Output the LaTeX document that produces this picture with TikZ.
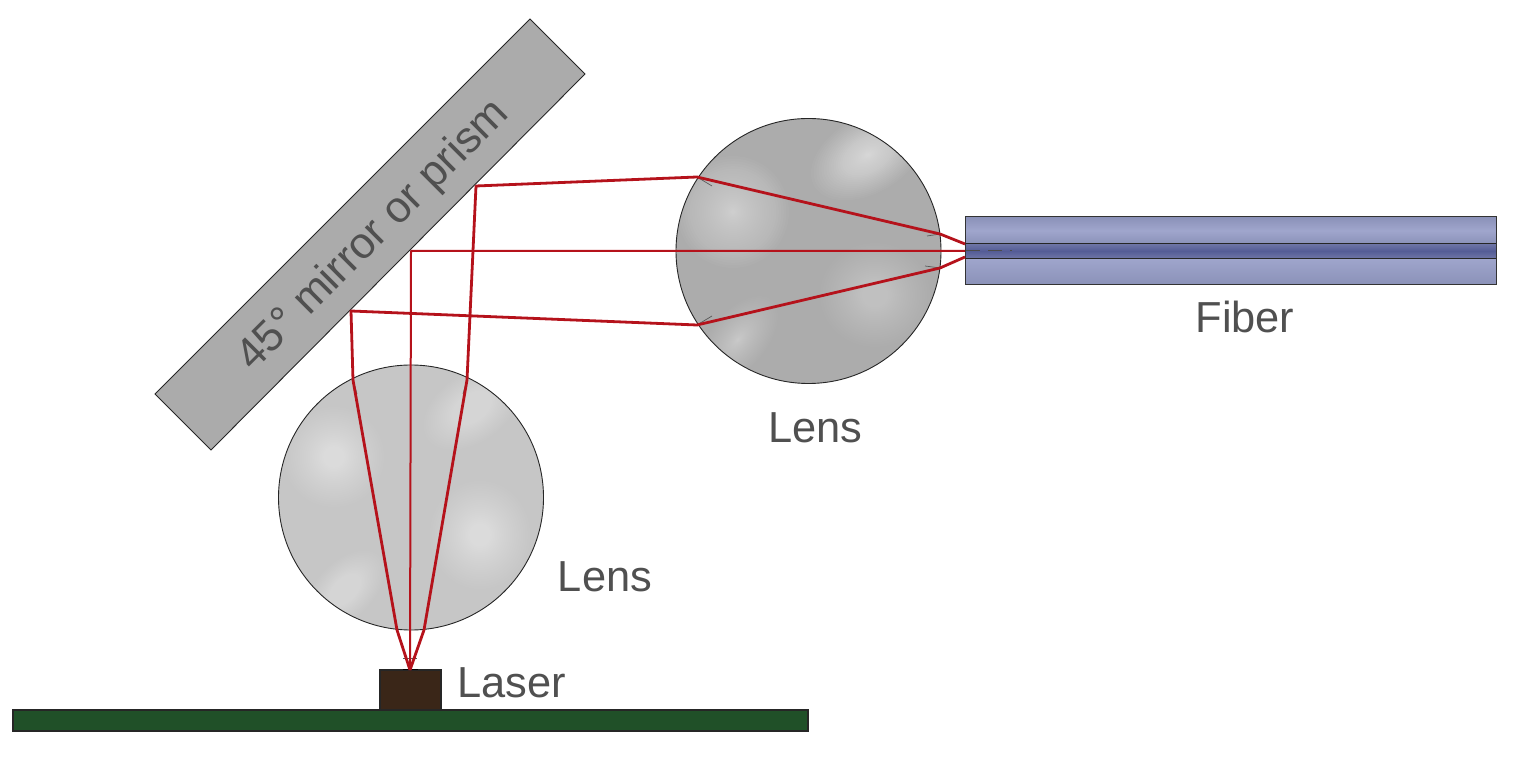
\documentclass[tikz,border=0pt]{standalone}
\usepackage{fontspec}
\setmainfont{Liberation Sans}
\definecolor{txt}{HTML}{505050}
\definecolor{ray}{HTML}{B5121B}
\definecolor{mirrorc}{HTML}{ABABAB}
\definecolor{lensa}{HTML}{ACACAC}
\definecolor{lensb}{HTML}{C6C6C6}
\definecolor{fibera}{HTML}{979EC8}
\definecolor{fiberb}{HTML}{545C96}
\definecolor{boardc}{HTML}{205028}
\definecolor{laserc}{HTML}{3A2618}
\tikzset{
  lbl/.style={text=txt,font=\fontsize{21.7}{25}\selectfont,inner sep=0pt},
  lensu/.style={circle,minimum size=132.5pt,inner sep=0pt,draw=black!85,line width=0.45pt},
  beam/.style={draw=ray,line width=1.4pt,line join=round},
  thinbeam/.style={draw=ray,line width=1pt,line join=round},
  tick/.style={draw=black!65,line width=0.35pt},
}
% x, y, x radius, y radius, angle, per-layer opacity (30 layers, denser towards the middle)
\newcommand{\glow}[6]{\foreach \k in {1,...,30}{\pgfmathsetmacro{\fr}{(\k/30)^1.4}\fill[white,opacity=#6,rotate around={#5:(#1,#2)}] (#1,#2) ellipse [x radius=#3*\fr,y radius=#4*\fr];}}
\begin{document}
\begin{tikzpicture}[x=0.5pt,y=-0.5pt]
\useasboundingbox (0,0) rectangle (1520,763);
% board and laser
\node[draw=black!85,fill=boardc,line width=0.7pt,minimum width=397.5pt,minimum height=10.5pt,inner sep=0pt] (board) at (410.5,720.5) {};
\node[draw=black!85,fill=laserc,line width=0.7pt,minimum width=30.5pt,minimum height=20pt,inner sep=0pt] (laser) at (410.5,690) {};
% mirror
\draw[fill=mirrorc,draw=black!85,line width=0.45pt] (530,19) -- (585,74) -- (211,450) -- (155,394) -- cycle;
\node[lbl,font=\fontsize{21.9}{26}\selectfont,rotate=45] (mirrorlabel) at (374,236) {45° mirror or prism};
% fiber
\shade[top color=fibera!92!black,bottom color=fibera!92!black,middle color=fibera!92!white] (965,217) rectangle (1496,244);
\shade[top color=fibera!92!white,bottom color=fibera!92!black] (965,258) rectangle (1496,285);
\shade[top color=fiberb!85!white,bottom color=fiberb!85!white,middle color=fiberb] (965,244) rectangle (1496,258);
\node[draw=black!80,line width=0.5pt,minimum width=265.5pt,minimum height=34pt,inner sep=0pt] (fiber) at (1230.5,251) {};
\node[minimum width=265.5pt,minimum height=7pt,inner sep=0pt] (core) at (1230.5,251) {};
\draw[black!85,line width=0.6pt] (core.north west) -- (core.north east) (core.south west) -- (core.south east);
% upper lens
\fill[lensa] (808.5,251) circle [radius=132.5];
\begin{scope}
\clip (808.5,251) circle [radius=132.5];
\glow{733}{212}{56}{56}{0}{0.028}
\glow{868}{155}{62}{38}{30}{0.036}
\glow{805}{175}{55}{45}{0}{0.009}
\glow{875}{295}{55}{52}{0}{0.014}
\glow{810}{325}{55}{44}{0}{0.007}
\glow{738}{340}{52}{28}{50}{0.022}
\end{scope}
\node[lensu] (lensA) at (808.5,251) {};
% lower lens
\fill[lensb] (411,497.5) circle [radius=132.5];
\begin{scope}
\clip (411,497.5) circle [radius=132.5];
\glow{334}{457}{50}{50}{0}{0.026}
\glow{480}{535}{50}{54}{0}{0.026}
\glow{472}{408}{54}{34}{35}{0.022}
\glow{400}{420}{52}{44}{0}{0.008}
\glow{345}{590}{48}{28}{45}{0.022}
\end{scope}
\node[lensu] (lensB) at (411,497.5) {};
% ray waypoints
\coordinate (src) at (410,670);
\coordinate (l1) at (397,630); \coordinate (l2) at (353,380); \coordinate (l3) at (351,311);
\coordinate (l4) at (697,325); \coordinate (l5) at (940,268); \coordinate (l6) at (965,257);
\coordinate (r1) at (424,630); \coordinate (r2) at (467,380); \coordinate (r3) at (476,186);
\coordinate (r4) at (697,177); \coordinate (r5) at (940,234); \coordinate (r6) at (965,244);
\coordinate (m1) at (411,251); \coordinate (m2) at (965,251);
% small ticks at refraction points
\draw[tick] (l4) -- (712,316); \draw[tick] (r4) -- (712,186);
\draw[tick] (r5) -- (927,236); \draw[tick] (l5) -- (925,266);
\draw[tick] (l2) -- (357,394); \draw[tick] (r2) -- (463,394);
\draw[tick] (403,658) -- (417,658);
\draw[black,line width=0.8pt] (403,669.5) -- (418,669.5);
\draw[black!70,line width=0.5pt,dash pattern=on 7pt off 4pt] (966,251) -- (1012,251);
% rays
\path[beam] (src) -- (l1) -- (l2) -- (l3) -- (l4) -- (l5) -- (l6);
\path[beam] (src) -- (r1) -- (r2) -- (r3) -- (r4) -- (r5) -- (r6);
\path[thinbeam] (src) -- (m1) -- (m2);
% labels
\node[lbl] (lensAlabel) at (815.5,428) {Lens};
\node[lbl] (lensBlabel) at (605,577) {Lens};
\node[lbl] (laserlabel) at (511.5,683) {Laser};
\node[lbl] (fiberlabel) at (1245,317) {Fiber};
\end{tikzpicture}
\end{document}
